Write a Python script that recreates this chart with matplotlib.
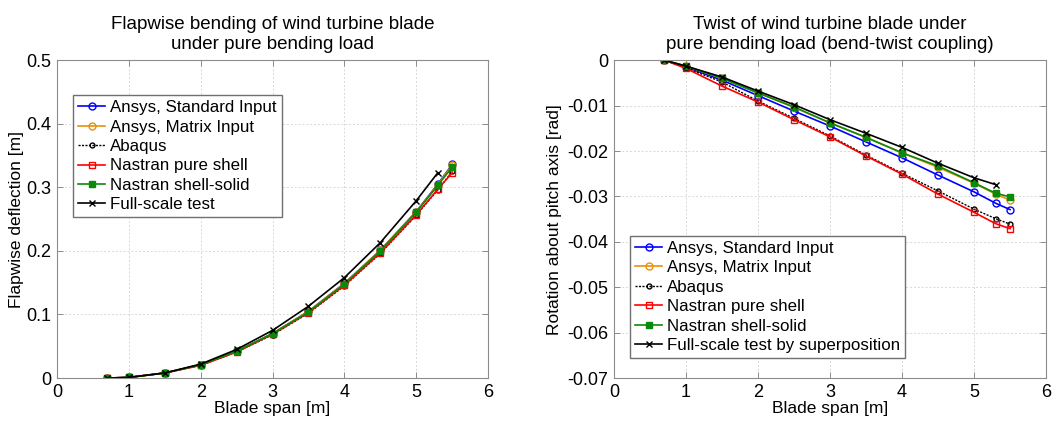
import matplotlib
matplotlib.use("Agg")
import matplotlib.pyplot as plt

plt.rcParams["font.family"] = ["Liberation Sans", "DejaVu Sans"]

# blade span stations [m]
span = [0.7, 1.0, 1.5, 2.0, 2.5, 3.0, 3.5, 4.0, 4.5, 5.0, 5.3, 5.5]
span_test = [0.7, 1.0, 1.5, 2.0, 2.5, 3.0, 3.5, 4.0, 4.5, 5.0, 5.3]

# flapwise deflection [m]
flap_ansys_std = [0.0, 0.001, 0.008, 0.021, 0.042, 0.070, 0.105, 0.149, 0.201, 0.262, 0.305, 0.336]
flap_ansys_mat = [0.0, 0.001, 0.008, 0.021, 0.042, 0.070, 0.105, 0.149, 0.201, 0.262, 0.304, 0.335]
flap_abaqus = [0.0, 0.001, 0.008, 0.020, 0.041, 0.068, 0.102, 0.145, 0.196, 0.256, 0.296, 0.325]
flap_nas_shell = [0.0, 0.001, 0.008, 0.020, 0.041, 0.069, 0.103, 0.146, 0.197, 0.257, 0.297, 0.323]
flap_nas_solid = [0.0, 0.001, 0.008, 0.021, 0.042, 0.070, 0.104, 0.148, 0.200, 0.261, 0.303, 0.332]
flap_test = [0.0, 0.001, 0.008, 0.022, 0.045, 0.075, 0.113, 0.158, 0.213, 0.279, 0.323]

# rotation about pitch axis [rad]
rot_ansys_std = [0.0, -0.0015, -0.0044, -0.0078, -0.0112, -0.0145, -0.0180, -0.0215, -0.0253, -0.0290, -0.0315, -0.0329]
rot_ansys_mat = [0.0, -0.0013, -0.0040, -0.0072, -0.0104, -0.0138, -0.0170, -0.0204, -0.0236, -0.0271, -0.0295, -0.0308]
rot_abaqus = [0.0, -0.0017, -0.0048, -0.0090, -0.0128, -0.0167, -0.0209, -0.0249, -0.0288, -0.0328, -0.0349, -0.0361]
rot_nas_shell = [0.0, -0.0018, -0.0057, -0.0092, -0.0131, -0.0169, -0.0211, -0.0251, -0.0295, -0.0335, -0.0360, -0.0371]
rot_nas_solid = [0.0, -0.0013, -0.0040, -0.0072, -0.0103, -0.0138, -0.0170, -0.0204, -0.0233, -0.0270, -0.0293, -0.0301]
rot_test = [0.0, -0.0013, -0.0037, -0.0068, -0.0098, -0.0131, -0.0161, -0.0192, -0.0227, -0.0259, -0.0274]

labels = ["Ansys, Standard Input", "Ansys, Matrix Input", "Abaqus",
          "Nastran pure shell", "Nastran shell-solid"]
test_label_left = "Full-scale test"
test_label_right = "Full-scale test by superposition"

BLUE = "#0000ff"
ORANGE = "#e8900a"
RED = "#ff0000"
GREEN = "#0a8a0a"
GRIDC = "#d8d8d8"
SPINE = "#8c8c8c"


def draw(ax, series, test, test_label):
    styles = [
        dict(color=BLUE, marker="o", ms=5, mfc="none", lw=1.2),
        dict(color=ORANGE, marker="o", ms=5, mfc="none", lw=1.2),
        dict(color="black", marker="o", ms=3.5, mfc="none", lw=1.0, ls=(0, (1.5, 1))),
        dict(color=RED, marker="s", ms=4.5, mfc="none", lw=1.2),
        dict(color=GREEN, marker="s", ms=4, mfc=GREEN, lw=1.2),
    ]
    for ys, st, lab in zip(series, styles, labels):
        ax.plot(span, ys, label=lab, mew=1.0, **st)
    ax.plot(span_test, test, color="black", marker="x", ms=5, mew=1.0, lw=1.2, label=test_label)

    ax.set_xlim(0, 6)
    ax.set_xticks(range(0, 7))
    ax.grid(True, color=GRIDC, linestyle=(0, (2, 2)), linewidth=0.7)
    ax.tick_params(direction="in", top=True, right=True, labelsize=13,
                   colors="black", length=4, width=0.7, pad=4)
    ax.tick_params(axis="both", color=SPINE)
    for s in ax.spines.values():
        s.set_color(SPINE)
        s.set_linewidth(0.8)
    ax.set_xlabel("Blade span [m]", fontsize=12.5, labelpad=0)


def legend(ax, **kw):
    ax.legend(fontsize=12.2, handlelength=1.6, handletextpad=0.3, labelspacing=0.26,
              borderpad=0.3, borderaxespad=0, fancybox=False,
              edgecolor="#707070", framealpha=1, **kw)


fig = plt.figure(figsize=(10.54, 4.21), dpi=100)
fig.patch.set_facecolor("white")

ax1 = fig.add_axes([0.0541, 0.102, 0.409, 0.755])
draw(ax1, [flap_ansys_std, flap_ansys_mat, flap_abaqus, flap_nas_shell, flap_nas_solid],
     flap_test, test_label_left)
ax1.set_ylim(0, 0.5)
ax1.set_yticks([0, 0.1, 0.2, 0.3, 0.4, 0.5])
ax1.set_yticklabels(["0", "0.1", "0.2", "0.3", "0.4", "0.5"])
ax1.set_ylabel("Flapwise deflection [m]", fontsize=12.5, labelpad=2)
ax1.set_title("Flapwise bending of wind turbine blade\nunder pure bending load",
              fontsize=13.5, pad=8, linespacing=1.25)
legend(ax1, loc="upper left", bbox_to_anchor=(0.037, 0.89))

ax2 = fig.add_axes([0.5825, 0.102, 0.41, 0.755])
draw(ax2, [rot_ansys_std, rot_ansys_mat, rot_abaqus, rot_nas_shell, rot_nas_solid],
     rot_test, test_label_right)
ax2.set_ylim(-0.07, 0)
ytk = [0, -0.01, -0.02, -0.03, -0.04, -0.05, -0.06, -0.07]
ax2.set_yticks(ytk)
ax2.set_yticklabels(["0"] + [f"{v:.2f}" for v in ytk[1:]])
ax2.set_ylabel("Rotation about pitch axis [rad]", fontsize=12.5, labelpad=4)
ax2.set_title("Twist of wind turbine blade under\npure bending load (bend-twist coupling)",
              fontsize=13.5, pad=8, linespacing=1.25)
legend(ax2, loc="lower left", bbox_to_anchor=(0.037, 0.063))

fig.savefig("out.png", dpi=100, facecolor="white")
plt.close(fig)
